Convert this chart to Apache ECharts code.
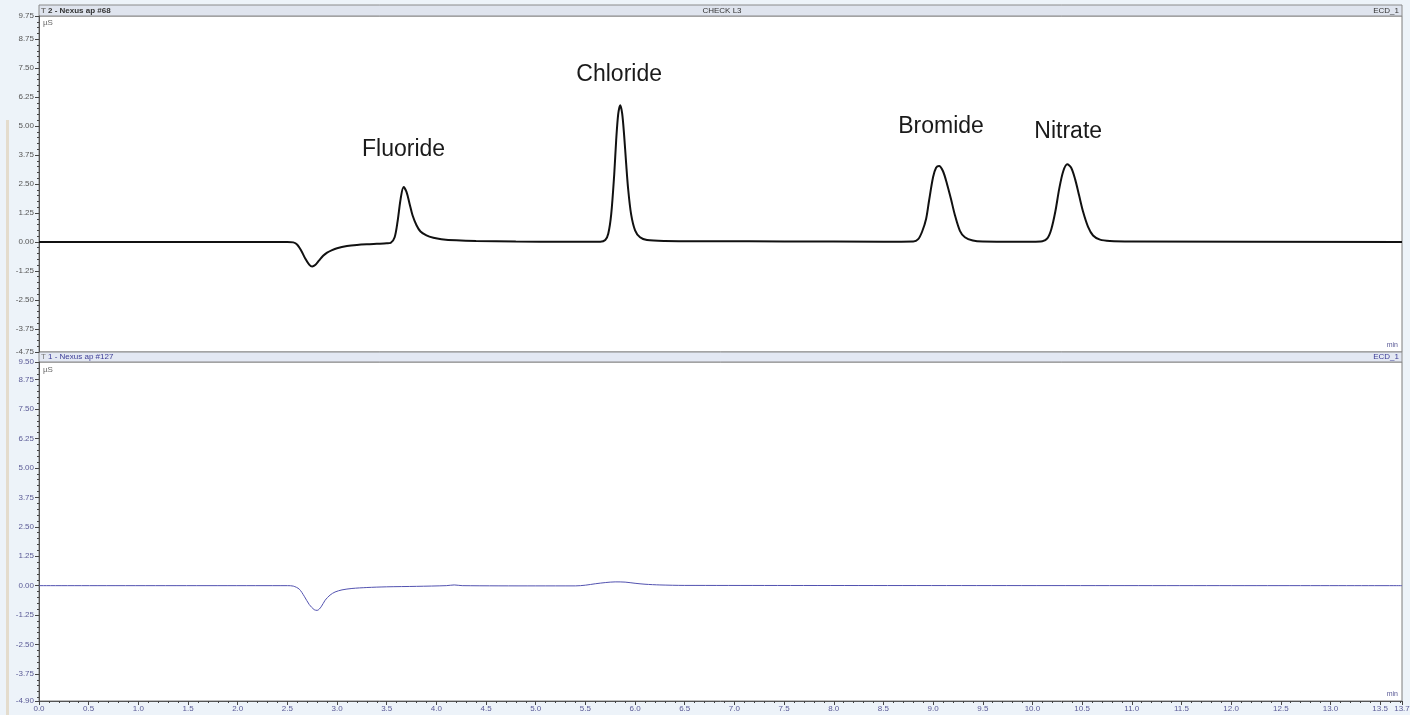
<!DOCTYPE html>
<html>
<head>
<meta charset="utf-8">
<script src="https://cdn.jsdelivr.net/npm/echarts@6/dist/echarts.min.js"></script>
<style>
  html, body { margin: 0; padding: 0; background: #edf3f9; }
  #chart { width: 1410px; height: 715px; }
</style>
</head>
<body>
<div id="chart"></div>
<script>
// ---- Top trace (sample #68, CHECK L3) : time (min) / conductivity (µS)
const timeTop = [
  0, 2.50, 2.56, 2.60, 2.64, 2.68, 2.72, 2.75, 2.78, 2.82, 2.86, 2.90, 2.95, 3.00, 3.10, 3.20, 3.30, 3.40, 3.50, 3.54,
  3.58, 3.61, 3.64, 3.67, 3.70, 3.73, 3.76, 3.80, 3.84, 3.90, 3.97, 4.05, 4.20, 4.40, 4.80, 5.30,
  5.65, 5.70, 5.73, 5.76, 5.79, 5.81, 5.83, 5.85, 5.87, 5.89, 5.91, 5.93, 5.96, 6.00, 6.05, 6.12, 6.30, 6.80, 7.50, 8.50,
  8.80, 8.85, 8.89, 8.93, 8.96, 9.00, 9.03, 9.06, 9.10, 9.14, 9.18, 9.22, 9.27, 9.32, 9.40, 9.50, 10.00,
  10.10, 10.15, 10.19, 10.23, 10.27, 10.31, 10.35, 10.39, 10.43, 10.47, 10.51, 10.56, 10.61, 10.68, 10.78, 11.00, 13.72
];
const signalTop = [
  0, 0, -0.02, -0.12, -0.38, -0.72, -0.98, -1.06, -1.00, -0.80, -0.60, -0.46, -0.35, -0.27, -0.18, -0.13, -0.10, -0.08, -0.06, -0.04,
  0.20, 0.90, 1.85, 2.37, 2.15, 1.65, 1.15, 0.72, 0.45, 0.28, 0.18, 0.12, 0.07, 0.04, 0.02, 0.01,
  0.01, 0.08, 0.35, 1.20, 2.90, 4.40, 5.50, 5.90, 5.55, 4.60, 3.40, 2.30, 1.20, 0.50, 0.20, 0.08, 0.04, 0.03, 0.02, 0.01,
  0.02, 0.12, 0.45, 1.00, 1.80, 2.80, 3.20, 3.28, 3.05, 2.50, 1.85, 1.15, 0.48, 0.20, 0.06, 0.02, 0.01,
  0.03, 0.15, 0.55, 1.30, 2.30, 3.05, 3.35, 3.20, 2.70, 2.00, 1.30, 0.65, 0.28, 0.10, 0.04, 0.02, 0
];

// ---- Bottom trace (sample #127)
const timeBottom = [
  0, 2.50, 2.56, 2.62, 2.67, 2.72, 2.77, 2.80, 2.84, 2.88, 2.93, 2.98, 3.05, 3.15, 3.30, 3.50, 3.80, 4.10, 4.18, 4.26,
  5.00, 5.40, 5.50, 5.60, 5.70, 5.80, 5.90, 6.00, 6.10, 6.25, 6.50, 13.72
];
const signalBottom = [
  0, 0, -0.02, -0.15, -0.45, -0.80, -1.02, -1.05, -0.90, -0.62, -0.40, -0.27, -0.18, -0.12, -0.08, -0.05, -0.03, 0.00, 0.03, 0.00,
  -0.01, -0.01, 0.02, 0.08, 0.13, 0.16, 0.15, 0.10, 0.06, 0.03, 0.01, 0
];

// ---- Peak annotations (label anchor in data space)
const peakNames = ['Fluoride', 'Chloride', 'Bromide', 'Nitrate'];
const peakLabelTime = [3.67, 5.84, 9.08, 10.36];
const peakLabelSignal = [3.97, 7.20, 4.96, 4.78];

// ---- Axis tick labels
const yTicksTop = [-4.75, -3.75, -2.50, -1.25, 0.00, 1.25, 2.50, 3.75, 5.00, 6.25, 7.50, 8.75, 9.75];
const yTicksBottom = [-4.90, -3.75, -2.50, -1.25, 0.00, 1.25, 2.50, 3.75, 5.00, 6.25, 7.50, 8.75, 9.50];
const xMin = 0, xMax = 13.72, xStep = 0.5;
const yRangeTop = [-4.75, 9.75];
const yRangeBottom = [-4.90, 9.50];

function minorTicks(lo, hi, step) {
  const out = [];
  const start = Math.ceil(lo / step) * step;
  for (let v = start; v <= hi + 1e-9; v += step) out.push(Math.round(v * 100) / 100);
  return out;
}

const FONT = 'Liberation Sans, Arial, sans-serif';
const chart = echarts.init(document.getElementById('chart'), null, { renderer: 'canvas' });

const gridTop = { left: 39, right: 8, top: 16, height: 336, show: true, backgroundColor: '#ffffff', borderColor: '#7c7c7c', borderWidth: 1, containLabel: false, outerBoundsMode: 'none' };
const gridBottom = { left: 39, right: 8, top: 362, height: 339, show: true, backgroundColor: '#ffffff', borderColor: '#7c7c7c', borderWidth: 1, containLabel: false, outerBoundsMode: 'none' };

function majorY(gridIndex, range, ticks, labelColor) {
  return {
    type: 'value', gridIndex, position: 'left', min: range[0], max: range[1],
    axisLine: { show: true, onZero: false, lineStyle: { color: '#555', width: 1 } },
    axisTick: { show: true, length: 4, customValues: ticks, lineStyle: { color: '#444' } },
    axisLabel: { show: true, customValues: ticks, formatter: v => v.toFixed(2), fontSize: 8, color: labelColor, fontFamily: FONT, margin: 5 },
    splitLine: { show: false }
  };
}
function minorY(gridIndex, range) {
  return {
    type: 'value', gridIndex, position: 'left', min: range[0], max: range[1],
    axisLine: { show: false, onZero: false },
    axisTick: { show: true, length: 2, customValues: minorTicks(range[0], range[1], 0.25), lineStyle: { color: '#444' } },
    axisLabel: { show: false },
    splitLine: { show: false }
  };
}

const option = {
  animation: false,
  backgroundColor: '#edf3f9',
  grid: [gridTop, gridBottom],
  xAxis: [
    {
      type: 'value', gridIndex: 0, min: xMin, max: xMax, position: 'bottom',
      axisLine: { show: false, onZero: false }, axisTick: { show: false }, axisLabel: { show: false }, splitLine: { show: false }
    },
    {
      type: 'value', gridIndex: 1, min: xMin, max: xMax, interval: xStep, position: 'bottom',
      axisLine: { show: true, onZero: false, lineStyle: { color: '#555' } },
      axisTick: { show: true, length: 4, lineStyle: { color: '#444' } },
      minorTick: { show: true, splitNumber: 5, length: 2, lineStyle: { color: '#444' } },
      axisLabel: { show: true, formatter: v => v.toFixed(1), fontSize: 8, color: '#5a5a96', fontFamily: FONT, margin: 4, showMaxLabel: true },
      splitLine: { show: false }
    }
  ],
  yAxis: [
    majorY(0, yRangeTop, yTicksTop, '#555'),
    minorY(0, yRangeTop),
    majorY(1, yRangeBottom, yTicksBottom, '#5a5a96'),
    minorY(1, yRangeBottom)
  ],
  graphic: [
    { type: 'rect', shape: { x: 6, y: 120, width: 3, height: 595 }, style: { fill: '#e4dccd' }, silent: true },
    { type: 'rect', shape: { x: 39, y: 5, width: 1363, height: 11 }, style: { fill: '#dfe4ee', stroke: '#8a8a8a', lineWidth: 1 }, silent: true },
    { type: 'text', x: 41, y: 10.5, style: { text: 'T', font: 'bold 8px ' + FONT, fill: '#777', verticalAlign: 'middle' } },
    { type: 'text', x: 48, y: 10.5, style: { text: '2 - Nexus ap #68', font: 'bold 8px ' + FONT, fill: '#333', verticalAlign: 'middle' } },
    { type: 'text', x: 722, y: 10.5, style: { text: 'CHECK L3', font: '8px ' + FONT, fill: '#333', align: 'center', verticalAlign: 'middle' } },
    { type: 'text', x: 1399, y: 10.5, style: { text: 'ECD_1', font: '8px ' + FONT, fill: '#333', align: 'right', verticalAlign: 'middle' } },
    { type: 'text', x: 43, y: 23, style: { text: 'µS', font: '8px ' + FONT, fill: '#666', verticalAlign: 'middle' } },
    { type: 'text', x: 1398, y: 345, style: { text: 'min', font: '7px ' + FONT, fill: '#5a5a96', align: 'right', verticalAlign: 'middle' } },
    { type: 'rect', shape: { x: 39, y: 352, width: 1363, height: 10 }, style: { fill: '#e3e8f3', stroke: '#8a8a8a', lineWidth: 1 }, silent: true },
    { type: 'text', x: 41, y: 357, style: { text: 'T', font: '8px ' + FONT, fill: '#777', verticalAlign: 'middle' } },
    { type: 'text', x: 48, y: 357, style: { text: '1 - Nexus ap #127', font: '8px ' + FONT, fill: '#3c3c96', verticalAlign: 'middle' } },
    { type: 'text', x: 1399, y: 357, style: { text: 'ECD_1', font: '8px ' + FONT, fill: '#3c3c96', align: 'right', verticalAlign: 'middle' } },
    { type: 'text', x: 43, y: 370, style: { text: 'µS', font: '8px ' + FONT, fill: '#666', verticalAlign: 'middle' } },
    { type: 'text', x: 1398, y: 694, style: { text: 'min', font: '7px ' + FONT, fill: '#5a5a96', align: 'right', verticalAlign: 'middle' } }
  ],
  series: [
    {
      type: 'line', xAxisIndex: 0, yAxisIndex: 0,
      data: timeTop.map((t, i) => [t, signalTop[i]]),
      showSymbol: false, smooth: 0.3,
      lineStyle: { color: '#111', width: 2 },
      markPoint: {
        symbol: 'circle', symbolSize: 0, silent: true,
        label: { show: true, formatter: '{b}', fontSize: 23, color: '#1a1a1a', fontFamily: FONT, position: 'inside' },
        data: peakNames.map((n, i) => ({ name: n, coord: [peakLabelTime[i], peakLabelSignal[i]] }))
      }
    },
    {
      type: 'line', xAxisIndex: 1, yAxisIndex: 2,
      data: timeBottom.map((t, i) => [t, signalBottom[i]]),
      showSymbol: false, smooth: 0.3,
      lineStyle: { color: '#5252b0', width: 1 }
    }
  ]
};
chart.setOption(option);
</script>
</body>
</html>
